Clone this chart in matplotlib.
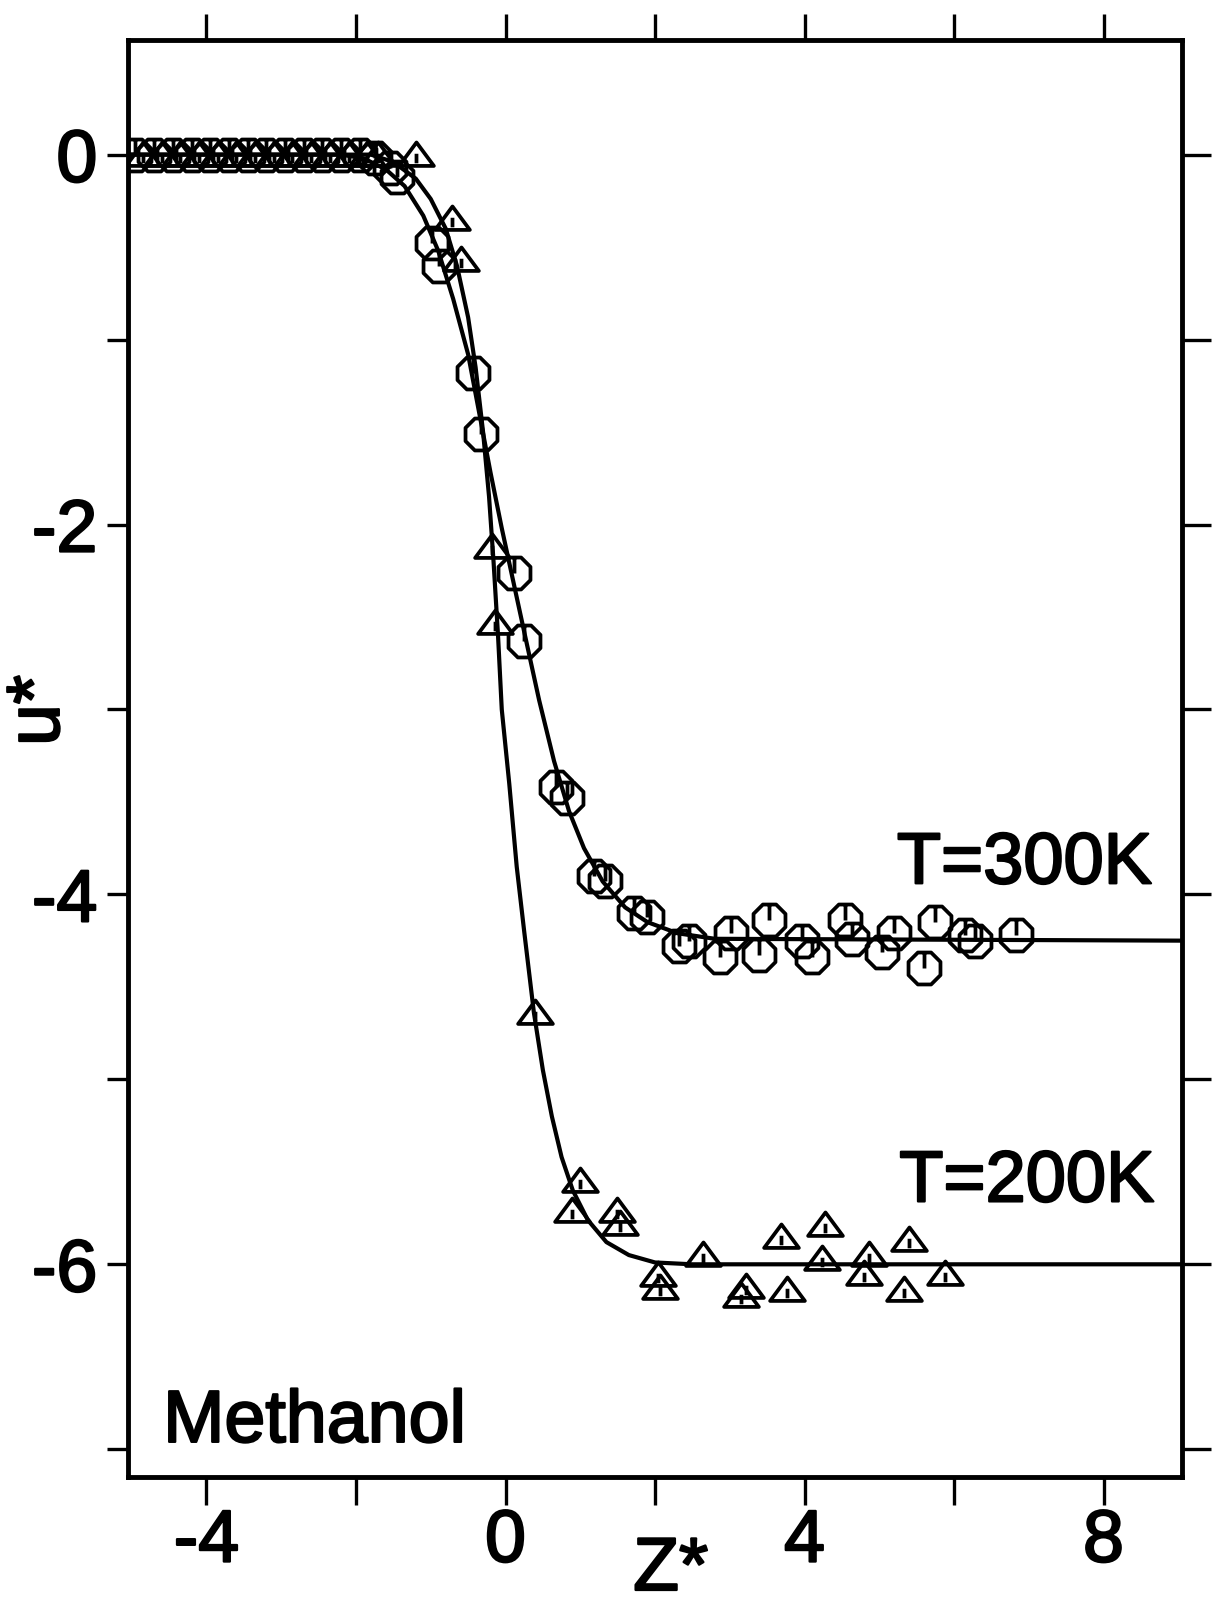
import numpy as np
import matplotlib
matplotlib.use("Agg")
import matplotlib.pyplot as plt
import matplotlib.patheffects as pe
from matplotlib.path import Path

plt.rcParams['font.family'] = ['Liberation Sans', 'DejaVu Sans']

# simulated points, T = 300 K (octagons)
z_300 = [-4.95, -4.7, -4.45, -4.2, -3.95, -3.7, -3.45, -3.2, -2.95, -2.7,
         -2.45, -2.2, -1.95, -1.75, -1.55, -1.45,
         -0.98, -0.89, -0.44, -0.33, 0.11, 0.25, 0.68, 0.82, 1.19, 1.33,
         1.72, 1.89, 2.32, 2.46, 2.87, 3.01, 3.39, 3.52, 3.96, 4.10,
         4.54, 4.64, 5.03, 5.19, 5.60, 5.74, 6.15, 6.28, 6.83]
u_300 = [0.0, 0.0, 0.0, 0.0, 0.0, 0.0, 0.0, 0.0, 0.0, 0.0,
         0.0, 0.0, 0.0, -0.02, -0.07, -0.12,
         -0.48, -0.60, -1.18, -1.51, -2.26, -2.63, -3.42, -3.48, -3.90, -3.93,
         -4.10, -4.12, -4.28, -4.25, -4.34, -4.21, -4.33, -4.14, -4.25, -4.34,
         -4.14, -4.24, -4.31, -4.21, -4.40, -4.15, -4.22, -4.25, -4.22]

# simulated points, T = 200 K (triangles)
z_200 = [-4.85, -4.6, -4.35, -4.1, -3.85, -3.6, -3.35, -3.1, -2.85, -2.6,
         -2.35, -2.1, -1.85, -1.7, -1.2,
         -0.72, -0.59, -0.18, -0.14, 0.39, 1.0, 0.89, 1.49, 1.53, 2.04,
         2.07, 2.64, 3.15, 3.22, 3.68, 3.76, 4.28, 4.23, 4.80, 4.86,
         5.33, 5.40, 5.88]
u_200 = [0.0, 0.0, 0.0, 0.0, 0.0, 0.0, 0.0, 0.0, 0.0, 0.0,
         0.0, 0.0, 0.0, 0.0, 0.0,
         -0.35, -0.57, -2.12, -2.53, -4.64, -5.55, -5.71, -5.71, -5.78, -6.06,
         -6.13, -5.95, -6.17, -6.12, -5.85, -6.14, -5.79, -5.97, -6.05, -5.95,
         -6.14, -5.87, -6.05]

# fitted profiles
zfit_300 = [-5.05, -2.2, -1.9, -1.6, -1.35, -1.1, -0.9, -0.7, -0.5, -0.35,
            -0.2, -0.05, 0.1, 0.25, 0.45, 0.65, 0.85, 1.05, 1.3, 1.6,
            1.9, 2.3, 2.8, 9.05]
ufit_300 = [0.0, 0.0, -0.02, -0.08, -0.17, -0.33, -0.52, -0.78, -1.08, -1.40,
            -1.72, -2.02, -2.30, -2.58, -2.95, -3.28, -3.55, -3.75, -3.93, -4.07,
            -4.15, -4.21, -4.24, -4.25]

zfit_200 = [-5.05, -1.8, -1.5, -1.2, -1.0, -0.8, -0.65, -0.5, -0.4, -0.3,
            -0.22, -0.16, -0.1, -0.05, 0.05, 0.15, 0.25, 0.38, 0.5, 0.62,
            0.75, 0.9, 1.1, 1.35, 1.65, 2.0, 2.5, 9.05]
ufit_200 = [0.0, 0.0, -0.04, -0.13, -0.24, -0.40, -0.60, -0.88, -1.15, -1.50,
            -1.85, -2.20, -2.60, -3.00, -3.40, -3.85, -4.20, -4.64, -4.95, -5.20,
            -5.42, -5.60, -5.76, -5.88, -5.95, -5.99, -6.0, -6.0]

xticks = [-4, -2, 0, 2, 4, 6, 8]
xticklabels = ['-4', '', '0', '', '4', '', '8']
yticks = [0, -1, -2, -3, -4, -5, -6, -7]
yticklabels = ['0', '', '-2', '', '-4', '', '-6', '']

# plotter-style symbols: octagon / triangle with a small tick inside
ang = np.deg2rad(22.5 + 45 * np.arange(8))
oct_verts = list(zip(np.cos(ang), np.sin(ang))) + [(0, 0), (0, 0.92), (0, 0)]
oct_codes = [Path.MOVETO] + [Path.LINETO] * 7 + [Path.CLOSEPOLY, Path.MOVETO, Path.LINETO]
octagon = Path(oct_verts, oct_codes)

tri_verts = [(-1, -0.6), (1, -0.6), (0, 0.75), (0, 0), (0, -0.45), (0, 0.1)]
tri_codes = [Path.MOVETO, Path.LINETO, Path.LINETO, Path.CLOSEPOLY, Path.MOVETO, Path.LINETO]
triangle = Path(tri_verts, tri_codes)

# thicken the lettering a bit, like the plotter pen
bold = [pe.withStroke(linewidth=1.6, foreground='black')]

fig = plt.figure(figsize=(12.13, 16.06), dpi=100)
ax = fig.add_axes([0.1055, 0.0797, 0.869, 0.8948])

ax.plot(zfit_300, ufit_300, color='black', lw=3.0)
ax.plot(zfit_200, ufit_200, color='black', lw=3.0)
ax.plot(z_300, u_300, ls='none', marker=octagon, ms=23, mfc='none', mec='black', mew=2.7)
ax.plot(z_200, u_200, ls='none', marker=triangle, ms=25, mfc='none', mec='black', mew=2.7)

ax.set_xlim(-5.05, 9.05)
ax.set_ylim(-7.15, 0.62)

for s in ax.spines.values():
    s.set_linewidth(3.5)

ax.set_xticks(xticks)
ax.set_xticklabels(xticklabels)
ax.set_yticks(yticks)
ax.set_yticklabels(yticklabels)
ax.tick_params(axis='x', direction='out', top=True, length=20, width=2.4,
               labelsize=53, pad=2)
ax.tick_params(axis='y', direction='out', right=True, length=15, width=2.4,
               labelsize=53, pad=7)
for t in ax.yaxis.get_major_ticks():
    t.tick2line.set_markersize(21)
for t in ax.xaxis.get_major_ticks():
    t.tick2line.set_markersize(19)
for lab in ax.get_xticklabels() + ax.get_yticklabels():
    lab.set_path_effects(bold)

ax.text(8.65, -3.94, 'T=300K', fontsize=52, ha='right', va='baseline', path_effects=bold)
ax.text(8.68, -5.66, 'T=200K', fontsize=52, ha='right', va='baseline', path_effects=bold)
ax.text(-4.58, -6.96, 'Methanol', fontsize=53, ha='left', va='baseline', path_effects=bold)

fig.text(0.522, 0.0, 'Z*', fontsize=54, ha='left', va='bottom', path_effects=bold)
fig.text(0.004, 0.557, 'u*', fontsize=54, ha='left', va='center', rotation=90,
         path_effects=bold)

plt.savefig('out.png', dpi=100)
